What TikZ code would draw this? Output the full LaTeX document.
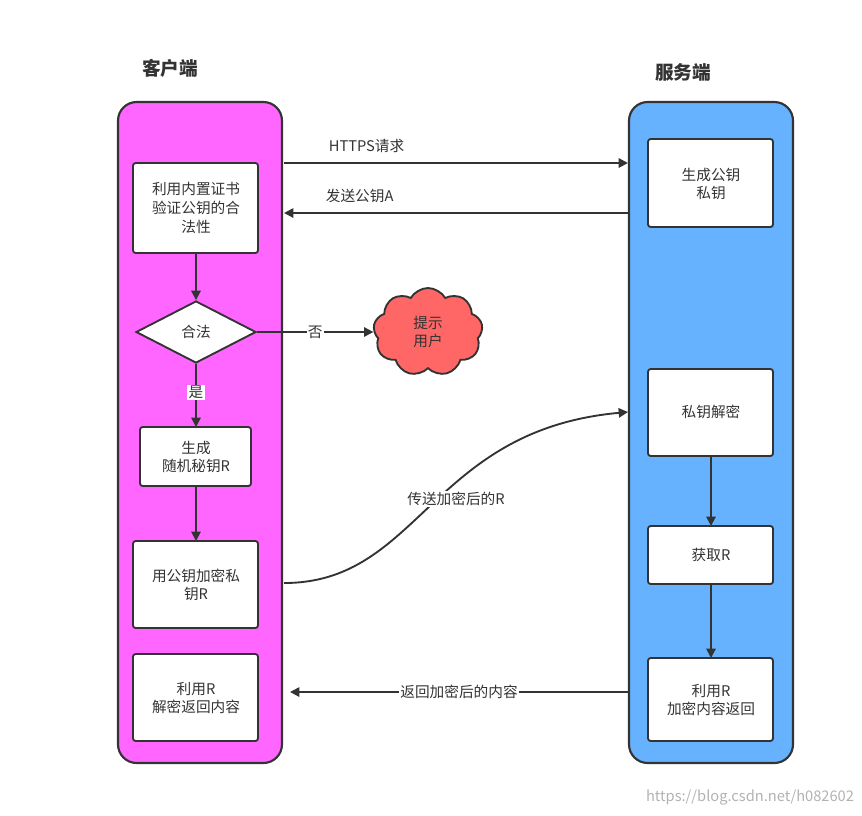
\documentclass[tikz,border=0pt]{standalone}
\usepackage{fontspec}
\setmainfont{Noto Sans CJK SC}
\usetikzlibrary{shapes.geometric,shapes.symbols,arrows.meta}
\definecolor{laneL}{HTML}{FF66FF}
\definecolor{laneR}{HTML}{66B2FF}
\definecolor{cloudc}{HTML}{FF6666}
\definecolor{ink}{HTML}{333333}
\newcommand{\fs}{\fontsize{11pt}{14pt}\selectfont}
\begin{document}
\begin{tikzpicture}[x=0.75pt,y=-0.75pt,
  lane/.style={draw=ink,line width=1.6pt,rounded corners=14pt},
  box/.style={draw=ink,line width=1.4pt,fill=white,rounded corners=2pt},
  txt/.style={font=\fs,text=ink,align=center},
  arr/.style={draw=ink,line width=1.4pt,-{Triangle[length=7pt,width=7pt]}},
  lbl/.style={font=\fs,text=ink,fill=white,inner sep=1pt},
  title/.style={font=\fontsize{14pt}{16pt}\selectfont\bfseries,text=ink}]
\useasboundingbox (0,0) rectangle (862,815);
% lanes
\draw[lane,fill=laneL] (118,102) rectangle (282,763);
\draw[lane,fill=laneR] (629,102) rectangle (793,763);
\node[title] (tc) at (170,68) {客户端};
\node[title] (ts) at (683,72) {服务端};
% client
\draw[box] (133,163) rectangle (258,253);
\node[txt] (t1) at (196,208) {利用内置证书\\验证公钥的合\\法性};
\coordinate (b1s) at (196,253);
\node[diamond,draw=ink,line width=1.4pt,fill=white,minimum width=90pt,minimum height=46.5pt,inner sep=0pt,font=\fs,text=ink] (d) at (196,332) {合法};
\draw[box] (140,427) rectangle (251,486);
\node[txt] (t2) at (196,457) {生成\\随机秘钥R};
\coordinate (b2n) at (196,427); \coordinate (b2s) at (196,486);
\draw[box] (133,541) rectangle (258,628);
\node[txt] (t3) at (196,585) {用公钥加密私\\钥R};
\coordinate (b3n) at (196,541); \coordinate (b3e) at (284,583);
\draw[box] (133,654) rectangle (258,741);
\node[txt] (t4) at (196,698) {利用R\\解密返回内容};
% server
\draw[box] (648,139) rectangle (773,227);
\node[txt] (r1) at (711,184) {生成公钥\\私钥};
\draw[box] (648,369) rectangle (773,456);
\node[txt] (r2) at (711,412) {私钥解密};
\coordinate (r2s) at (711,456);
\draw[box] (648,526) rectangle (773,584);
\node[txt] (r3) at (711,555) {获取R};
\coordinate (r3n) at (711,526); \coordinate (r3s) at (711,584);
\draw[box] (648,658) rectangle (773,741);
\node[txt] (r4) at (711,700) {利用R\\加密内容返回};
\coordinate (r4n) at (711,658);
% cloud
\node[cloud,cloud puffs=9,cloud puff arc=120,aspect=1.2,draw=ink,line width=1.4pt,fill=cloudc,minimum width=82pt,minimum height=66pt,txt] (c) at (428,332) {提示\\用户};
% edge coordinates
\coordinate (h1) at (284,163); \coordinate (h2) at (628,163);
\coordinate (k1) at (628,213); \coordinate (k2) at (284,213);
\coordinate (s1) at (628,412);
\coordinate (v1) at (628,692); \coordinate (v2) at (290,692);
% connectors
\draw[arr] (h1) -- (h2) node[lbl,pos=0.24,above=6pt,fill=none] {HTTPS请求};
\draw[arr] (k1) -- (k2) node[lbl,pos=0.78,above=6pt,fill=none] {发送公钥A};
\draw[arr] (b1s) -- (d.north);
\draw[arr] (d.east) -- (c.west) node[lbl,pos=0.5] {否};
\draw[arr] (d.south) -- (b2n) node[lbl,pos=0.45] {是};
\draw[arr] (b2s) -- (b3n);
\draw[arr] (b3e) .. controls (420,583) and (430,430) .. (s1);
\node[lbl] (lr) at (456,499) {传送加密后的R};
\draw[arr] (r2s) -- (r3n);
\draw[arr] (r3s) -- (r4n);
\draw[arr] (v1) -- (v2) node[lbl,pos=0.5] {返回加密后的内容};
\node[font=\fs,text=black!30] (wm) at (750,797) {https://blog.csdn.net/h082602};
\end{tikzpicture}
\end{document}
